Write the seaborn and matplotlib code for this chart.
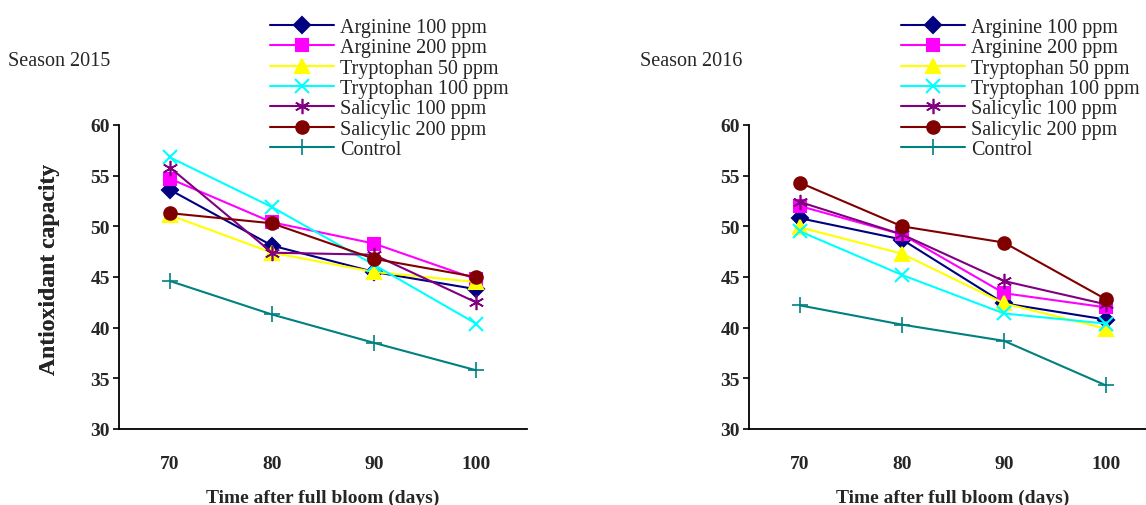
import matplotlib
matplotlib.use("Agg")
import matplotlib.pyplot as plt
import seaborn as sns
import numpy as np

days = ["70", "80", "90", "100"]
series_names = ["Arginine 100 ppm", "Arginine 200 ppm", "Tryptophan 50 ppm",
                "Tryptophan 100 ppm", "Salicylic 100 ppm", "Salicylic 200 ppm", "Control"]

s2015_arginine100 = [53.6, 48.1, 45.5, 43.8]
s2015_arginine200 = [54.7, 50.4, 48.3, 44.8]
s2015_tryptophan50 = [51.1, 47.4, 45.5, 44.5]
s2015_tryptophan100 = [56.8, 51.9, 46.2, 40.4]
s2015_salicylic100 = [55.8, 47.4, 47.2, 42.5]
s2015_salicylic200 = [51.3, 50.3, 46.8, 45.0]
s2015_control = [44.6, 41.3, 38.5, 35.8]

s2016_arginine100 = [50.8, 48.7, 42.4, 40.8]
s2016_arginine200 = [52.0, 49.2, 43.4, 42.0]
s2016_tryptophan50 = [49.9, 47.3, 42.4, 39.9]
s2016_tryptophan100 = [49.5, 45.2, 41.4, 40.4]
s2016_salicylic100 = [52.4, 49.2, 44.6, 42.3]
s2016_salicylic200 = [54.3, 50.0, 48.4, 42.8]
s2016_control = [42.2, 40.3, 38.7, 34.3]

y_ticks = [30, 35, 40, 45, 50, 55, 60]

season2015 = [s2015_arginine100, s2015_arginine200, s2015_tryptophan50, s2015_tryptophan100,
              s2015_salicylic100, s2015_salicylic200, s2015_control]
season2016 = [s2016_arginine100, s2016_arginine200, s2016_tryptophan50, s2016_tryptophan100,
              s2016_salicylic100, s2016_salicylic200, s2016_control]

colors = ["#000080", "#FF00FF", "#FFFF00", "#00FFFF", "#800080", "#800000", "#008080"]
markers = ["D", "s", "^", "x", (6, 2, 0), "o", "+"]
msizes = [8.5, 8, 10, 10, 11, 9, 11]
medgew = [1.5, 1.5, 1.5, 1.5, 1.2, 1.5, 1.2]

sns.set_style("white")
plt.rcParams["font.family"] = ["Liberation Serif", "DejaVu Serif"]

W, H = 1146, 506
fig = plt.figure(figsize=(W / 100, H / 100), dpi=100)

def draw(ax_left_px, data, season_label, season_x, legend_x):
    ax = fig.add_axes([ax_left_px / W, 1 - 430 / H, 408 / W, 304 / H])
    for name, vals, c, m, ms, mew in zip(series_names, data, colors, markers, msizes, medgew):
        sns.lineplot(x=days, y=vals, ax=ax, color=c, marker=m, markersize=ms,
                     markeredgecolor=c, markerfacecolor=c, markeredgewidth=mew,
                     linewidth=1.5, label=name, sort=False)
    ax.set_xlim(-0.5, 3.5)
    ax.set_ylim(30, 60)
    ax.set_yticks(y_ticks)
    ax.set_xticks(range(len(days)))
    ax.set_xticklabels(days)
    ax.set_xticks([-0.5, 0.5, 1.5, 2.5], minor=True)
    ax.tick_params(axis="x", which="major", length=0, pad=19, labelsize=14)
    ax.tick_params(axis="x", which="minor", length=4.5, width=1.2, direction="out", color="black")
    ax.tick_params(axis="y", length=4.5, width=1.2, direction="out", pad=2, labelsize=14, color="black", left=True)
    for lbl in ax.get_xticklabels() + ax.get_yticklabels():
        lbl.set_fontweight("bold")
    for side in ["top", "right"]:
        ax.spines[side].set_visible(False)
    for side in ["left", "bottom"]:
        ax.spines[side].set_color("black")
        ax.spines[side].set_linewidth(1.3)
    ax.set_xlabel("Time after full bloom (days)", fontsize=14, fontweight="bold")
    ax.xaxis.set_label_coords(0.5, (430 - 498) / 304)
    ax.xaxis.label.set_verticalalignment("center")
    ax.set_ylabel("Antioxidant capacity", fontsize=17, fontweight="bold")
    ax.yaxis.set_label_coords((50 - ax_left_px) / 408, (430 - 269) / 304)
    ax.yaxis.label.set_verticalalignment("center")
    ax.legend(loc="upper left", bbox_to_anchor=(legend_x / W, 1 - 19 / H),
              bbox_transform=fig.transFigure, frameon=False, fontsize=14.5,
              handlelength=3.2, handletextpad=0.3, labelspacing=0.06,
              borderpad=0, borderaxespad=0)
    fig.text(season_x / W, 1 - 62 / H, season_label, ha="left", va="center", fontsize=14.5)
    return ax

draw(119, season2015, "Season 2015", 8, 270)
draw(749, season2016, "Season 2016", 640, 901)

fig.savefig("out.png", dpi=100)
